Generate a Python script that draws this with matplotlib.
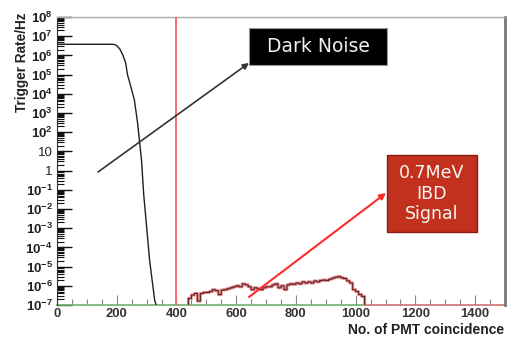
import matplotlib
matplotlib.use("Agg")
import matplotlib.pyplot as plt
import numpy as np
from matplotlib.ticker import FixedLocator, FixedFormatter, LogLocator, NullFormatter, MultipleLocator
from matplotlib.patches import Rectangle

plt.rcParams['font.family'] = ['Liberation Sans', 'DejaVu Sans']
plt.rcParams['mathtext.fontset'] = 'custom'
plt.rcParams['mathtext.rm'] = 'Liberation Sans:bold'
plt.rcParams['mathtext.bf'] = 'Liberation Sans:bold'
plt.rcParams['mathtext.it'] = 'Liberation Sans:bold'

# Dark noise trigger rate vs PMT coincidence threshold
dn_x = [0, 185, 192, 200, 210, 220, 230, 236, 244, 259, 270, 277, 283, 290, 300, 310, 320, 327, 332]
dn_y = [3.8e6, 3.8e6, 3.7e6, 3.2e6, 2.2e6, 1.1e6, 4.0e5, 1.0e5, 3.6e4, 4.8e3, 2.9e2, 26, 3.5,
        6.6e-2, 1.2e-3, 2.2e-5, 1.3e-6, 1.8e-7, 1e-7]

# IBD signal histogram (bin left edges, width 10)
sig_edges = list(range(440, 1050, 10))
sig_vals = [2.2e-7, 3.3e-7, 4.0e-7, 1.6e-7, 4.0e-7, 4.5e-7, 4.5e-7, 5.0e-7, 6.3e-7, 5.6e-7,
            3.5e-7, 6.0e-7, 6.3e-7, 7.1e-7, 7.9e-7, 8.9e-7, 1.0e-6, 8.9e-7, 1.26e-6, 1.12e-6,
            8.9e-7, 6.3e-7, 7.9e-7, 7.1e-7, 6.3e-7, 7.9e-7, 8.9e-7, 8.9e-7, 1.12e-6, 1.26e-6,
            7.9e-7, 1.0e-6, 6.3e-7, 1.12e-6, 1.26e-6, 1.2e-6, 1.4e-6, 1.26e-6, 1.6e-6, 1.4e-6,
            1.6e-6, 1.4e-6, 1.8e-6, 1.6e-6, 1.9e-6, 2.0e-6, 1.9e-6, 2.2e-6, 2.5e-6, 2.8e-6,
            3.0e-6, 2.6e-6, 2.4e-6, 1.8e-6, 1.4e-6, 6.3e-7, 5.0e-7, 3.5e-7, 2.8e-7, 3e-8]

threshold = 400
xticks = [0, 200, 400, 600, 800, 1000, 1200, 1400]
yticks = [10.0**k for k in range(-7, 9)]
ylabels = [r'$10^{-7}$', r'$10^{-6}$', r'$10^{-5}$', r'$10^{-4}$', r'$10^{-3}$', r'$10^{-2}$',
           r'$10^{-1}$', '1', '10', r'$10^{2}$', r'$10^{3}$', r'$10^{4}$', r'$10^{5}$',
           r'$10^{6}$', r'$10^{7}$', r'$10^{8}$']

fig = plt.figure(figsize=(5.08, 3.38), dpi=100)
ax = fig.add_axes([57/508, 33/338, 448/508, 288/338])
ax.set_yscale('log')
ax.set_xlim(0, 1500)
ax.set_ylim(1e-7, 1e8)

# green baseline & red baseline
ax.plot([0, 1030], [1.05e-7, 1.05e-7], color='#70b070', lw=1.2, zorder=2, clip_on=False)
ax.plot([1030, 1500], [1.05e-7, 1.05e-7], color='#d07070', lw=1.2, zorder=2, clip_on=False)

# dark noise
ax.plot(dn_x, dn_y, color='#202020', lw=1.0, zorder=4)

# signal histogram
edges = sig_edges + [sig_edges[-1] + 10]
xs = [edges[0]]
ys = [1e-8]
for i, v in enumerate(sig_vals):
    xs += [edges[i], edges[i + 1]]
    ys += [v, v]
xs.append(edges[-1]); ys.append(1e-8)
ax.plot(xs, ys, color='#e89090', lw=2.2, zorder=3)
ax.plot(xs, ys, color='#602028', lw=0.8, zorder=3)

# threshold line
ax.axvline(threshold, color='#ff6a6a', lw=1.4, zorder=3)

# ticks
ax.yaxis.set_major_locator(FixedLocator(yticks))
ax.yaxis.set_major_formatter(FixedFormatter(ylabels))
ax.yaxis.set_minor_locator(LogLocator(base=10, subs=range(2, 10), numticks=100))
ax.yaxis.set_minor_formatter(NullFormatter())
ax.xaxis.set_major_locator(FixedLocator(xticks))
ax.xaxis.set_minor_locator(MultipleLocator(50))
ax.tick_params(axis='y', which='major', direction='in', length=11, width=1.0, color='#111111',
               labelsize=9.5, pad=3, right=False)
ax.tick_params(axis='y', which='minor', direction='in', length=5, width=0.8, color='#111111', right=False)
ax.tick_params(axis='x', which='major', direction='in', length=7, width=0.8, color='#888888',
               labelsize=9.4, pad=2, top=False)
ax.tick_params(axis='x', which='minor', direction='in', length=4, width=0.8, color='#888888', top=False)
for lab in ax.get_xticklabels():
    lab.set_fontweight('bold')
    lab.set_color('#333333')
for lab in ax.get_yticklabels():
    lab.set_color('#222222')

ax.spines['top'].set_color('#aaaaaa'); ax.spines['top'].set_linewidth(1.0)
ax.spines['right'].set_color('#777777'); ax.spines['right'].set_linewidth(2.0)
ax.spines['left'].set_color('#333333'); ax.spines['left'].set_linewidth(0.8)
ax.spines['bottom'].set_visible(False)

fig.text(22/508, 1 - 12/338, 'Trigger Rate/Hz', rotation=90, ha='center', va='top',
         fontsize=9.8, fontweight='bold', color='#222222')
fig.text(504/508, 1 - 337.5/338, 'No. of PMT coincidence', ha='right', va='bottom',
         fontsize=10, fontweight='bold', color='#222222')

# annotations (axes fraction)
ax.add_patch(Rectangle((0.4286, 0.8333), 0.308, 0.1285, transform=ax.transAxes,
                       facecolor='black', edgecolor='#999999', lw=0.8, zorder=6, clip_on=False))
ax.text(0.5826, 0.8976, 'Dark Noise', transform=ax.transAxes, ha='center', va='center',
        color='#f0f0f0', fontsize=13.5, family='DejaVu Sans', zorder=7)
ax.annotate('', xy=(0.4286, 0.8403), xytext=(0.0915, 0.4618), xycoords='axes fraction',
            textcoords='axes fraction',
            arrowprops=dict(arrowstyle='-|>', color='#333333', lw=1.2, mutation_scale=9,
                            shrinkA=0, shrinkB=0), zorder=5)

ax.add_patch(Rectangle((0.7366, 0.2535), 0.2009, 0.2673, transform=ax.transAxes,
                       facecolor='#c1311e', edgecolor='#8a1c10', lw=1.0, zorder=6, clip_on=False))
ax.text(0.837, 0.387, '0.7MeV\nIBD\nSignal', transform=ax.transAxes, ha='center', va='center',
        color='#f5f5f5', fontsize=12.5, family='DejaVu Sans', linespacing=1.2, zorder=7)
ax.annotate('', xy=(0.7344, 0.3889), xytext=(0.4286, 0.0278), xycoords='axes fraction',
            textcoords='axes fraction',
            arrowprops=dict(arrowstyle='-|>', color='#ff2a2a', lw=1.5, mutation_scale=9,
                            shrinkA=0, shrinkB=0), zorder=5)

fig.savefig('out.png', dpi=100)
